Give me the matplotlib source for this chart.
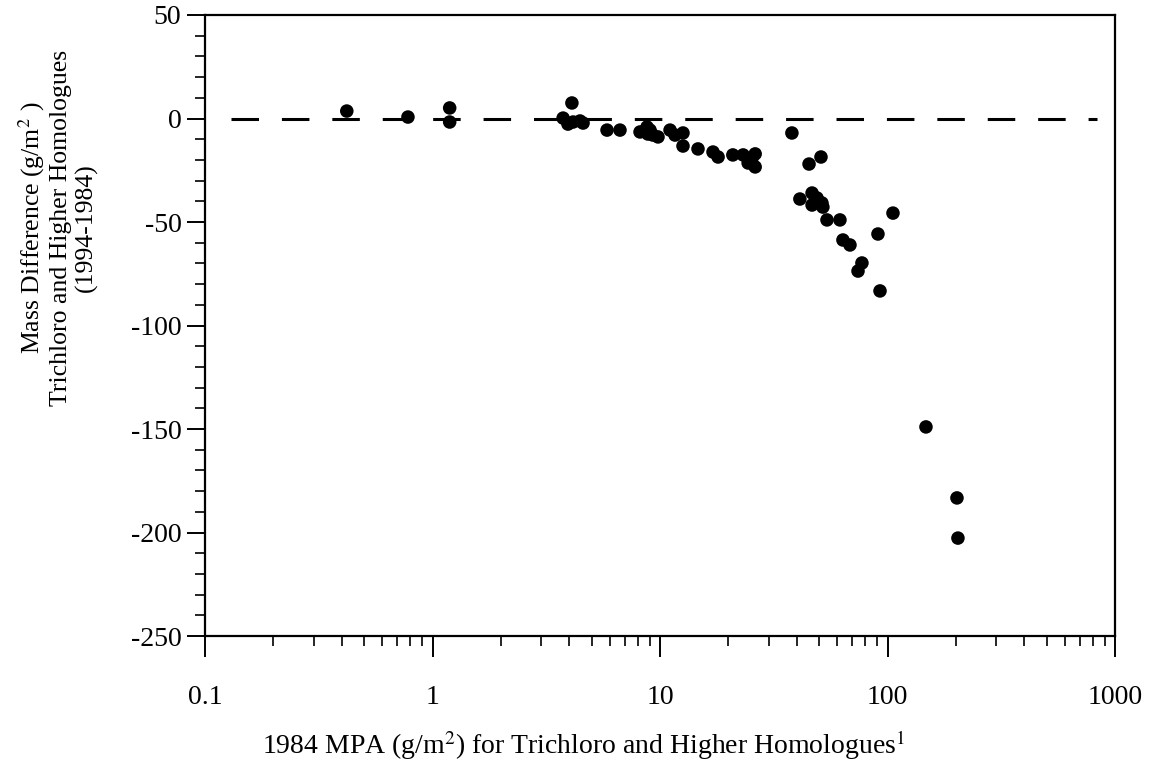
import numpy as np
import matplotlib
matplotlib.use("Agg")
import matplotlib.pyplot as plt
from matplotlib.ticker import FixedLocator, LogLocator, NullFormatter, MultipleLocator

# data
mpa_1984 = [0.42, 0.78, 1.19, 1.19, 3.75, 4.10, 4.15, 3.94, 4.59, 4.45,
            5.85, 6.67, 8.17, 8.77, 9.04, 9.31, 9.80, 8.85, 11.07, 11.64,
            12.62, 12.62, 14.69, 17.1, 18.0, 20.9, 23.2, 24.4, 26.2, 26.2,
            25.4, 38.0, 45.2, 51.0, 41.2, 46.6, 46.6, 51.5, 52.0, 49.0,
            54.2, 61.8, 63.7, 68.4, 77.2, 74.2, 90.8, 105.7, 92.7, 147.6,
            202.0, 204.0]
mass_diff = [3.6, 0.7, 5.1, -1.7, 0.2, 7.5, -1.7, -2.7, -2.2, -1.2,
             -5.6, -5.6, -6.5, -4.1, -5.6, -8.0, -8.9, -7.5, -5.6, -8.0,
             -7.0, -13.3, -14.7, -16.2, -18.6, -17.6, -17.6, -21.5, -17.1, -23.4,
             -19.1, -7.0, -22.0, -18.6, -38.9, -36.0, -41.8, -40.8, -42.8, -38.4,
             -49.0, -49.0, -58.7, -61.1, -69.8, -73.7, -55.8, -45.7, -83.3, -149.0,
             -183.3, -202.7]

zero_line_x = [0.13, 830]
zero_line_y = [0, 0]

x_ticks = [0.1, 1, 10, 100, 1000]
x_tick_labels = ["0.1", "1", "10", "100", "1000"]
y_ticks = [50, 0, -50, -100, -150, -200, -250]

plt.rcParams['font.family'] = ['Liberation Serif', 'DejaVu Serif']
plt.rcParams['mathtext.fontset'] = 'stix'
plt.rcParams['axes.unicode_minus'] = False

fig = plt.figure(figsize=(11.53, 7.78), dpi=100)
ax = fig.add_axes([205 / 1153, 1 - 636 / 778, 910 / 1153, 621 / 778])

ax.plot(zero_line_x, zero_line_y, color='black', lw=2.2, dashes=(9, 7.5), zorder=1)
ax.scatter(mpa_1984, mass_diff, s=95, color='black', edgecolors='none', zorder=3)

ax.set_xscale('log')
ax.set_xlim(0.1, 1000)
ax.set_ylim(-250, 50)

ax.xaxis.set_major_locator(FixedLocator(x_ticks))
ax.set_xticklabels(x_tick_labels)
ax.xaxis.set_minor_locator(LogLocator(base=10, subs=np.arange(2, 10)))
ax.xaxis.set_minor_formatter(NullFormatter())
ax.set_yticks(y_ticks)
ax.yaxis.set_minor_locator(MultipleLocator(10))

for s in ax.spines.values():
    s.set_linewidth(1.6)

ax.tick_params(axis='both', which='major', direction='out', length=13, width=1.4, labelsize=20)
ax.tick_params(axis='both', which='minor', direction='out', length=7, width=1.2)
ax.tick_params(axis='x', which='major', length=15, pad=20)
ax.tick_params(axis='y', which='major', pad=4)
ax.tick_params(top=False, right=False, which='both')

fig.text(57 / 1153, 1 - 228 / 778,
         "Mass Difference (g/m$^{2}$ )\nTrichloro and Higher Homologues\n(1994-1984)",
         rotation=90, ha='center', va='center', fontsize=18.5, linespacing=1.15)
fig.text(584 / 1153, 1 - 745 / 778,
         "1984 MPA (g/m$^{2}$) for Trichloro and Higher Homologues$^{1}$",
         ha='center', va='center', fontsize=20)

fig.savefig("out.png", dpi=100)
